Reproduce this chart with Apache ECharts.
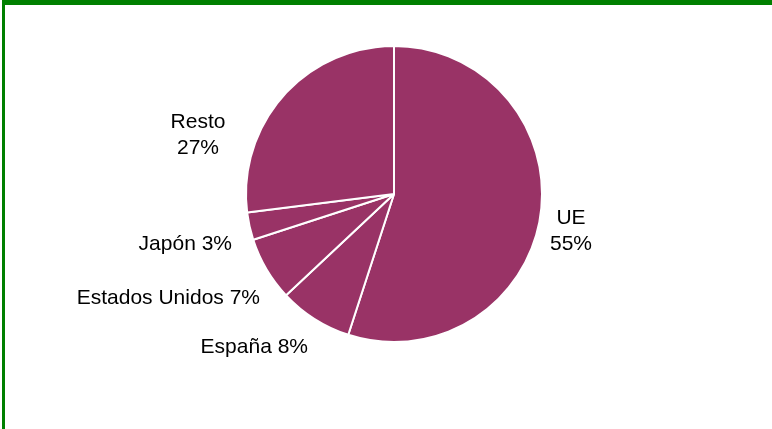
<!DOCTYPE html>
<html>
<head>
<meta charset="utf-8">
<script src="https://cdn.jsdelivr.net/npm/echarts@6/dist/echarts.min.js"></script>
<style>
  html, body { margin: 0; padding: 0; background: #fff; }
  #frame { position: absolute; left: 2px; top: 0; width: 770px; height: 429px;
           border-top: 5px solid #008000; border-left: 3px solid #008000; box-sizing: border-box; }
  #chart { position: absolute; left: 0; top: 0; width: 772px; height: 429px; }
</style>
</head>
<body>
<div id="frame"></div>
<div id="chart"></div>
<script>
var categories = ['UE', 'España', 'Estados Unidos', 'Japón', 'Resto'];
var values = [55, 8, 7, 3, 27];
// label on two lines for UE and Resto, one line for the rest
var twoLine = [true, false, false, false, true];

// where each label sits (anchor point, alignment)
var labelPlace = [
	{x: 571, y: 231, align: 'center'},
	{x: 308, y: 347, align: 'right'},
	{x: 260, y: 298, align: 'right'},
	{x: 232, y: 244, align: 'right'},
	{x: 198, y: 135, align: 'center'}
];

var mychart = echarts.init(document.getElementById('chart'));
var data = [];
for(var i = 0; i < categories.length; i++) {
	data.push({
		name: categories[i],
		value: values[i],
		label: {
			formatter: twoLine[i] ? '{b}\n{d}%' : '{b} {d}%'
		}
	});
}
var option = {
	animation: false,
	series: [{
		type: 'pie',
		center: [394, 194],
		radius: 148,
		startAngle: 90,
		clockwise: true,
		data: data,
		itemStyle: {
			color: '#993366',
			borderColor: '#ffffff',
			borderWidth: 2
		},
		label: {
			show: true,
			position: 'outside',
			fontFamily: 'Liberation Sans, Arial, sans-serif',
			fontSize: 21,
			color: '#000',
			lineHeight: 26
		},
		labelLine: {
			show: false
		},
		labelLayout: function(params) {
			var p = labelPlace[params.dataIndex];
			return {
				x: p.x,
				y: p.y,
				align: p.align,
				verticalAlign: 'middle'
			};
		},
		emphasis: { disabled: true }
	}]
};
mychart.setOption(option);
</script>
</body>
</html>
